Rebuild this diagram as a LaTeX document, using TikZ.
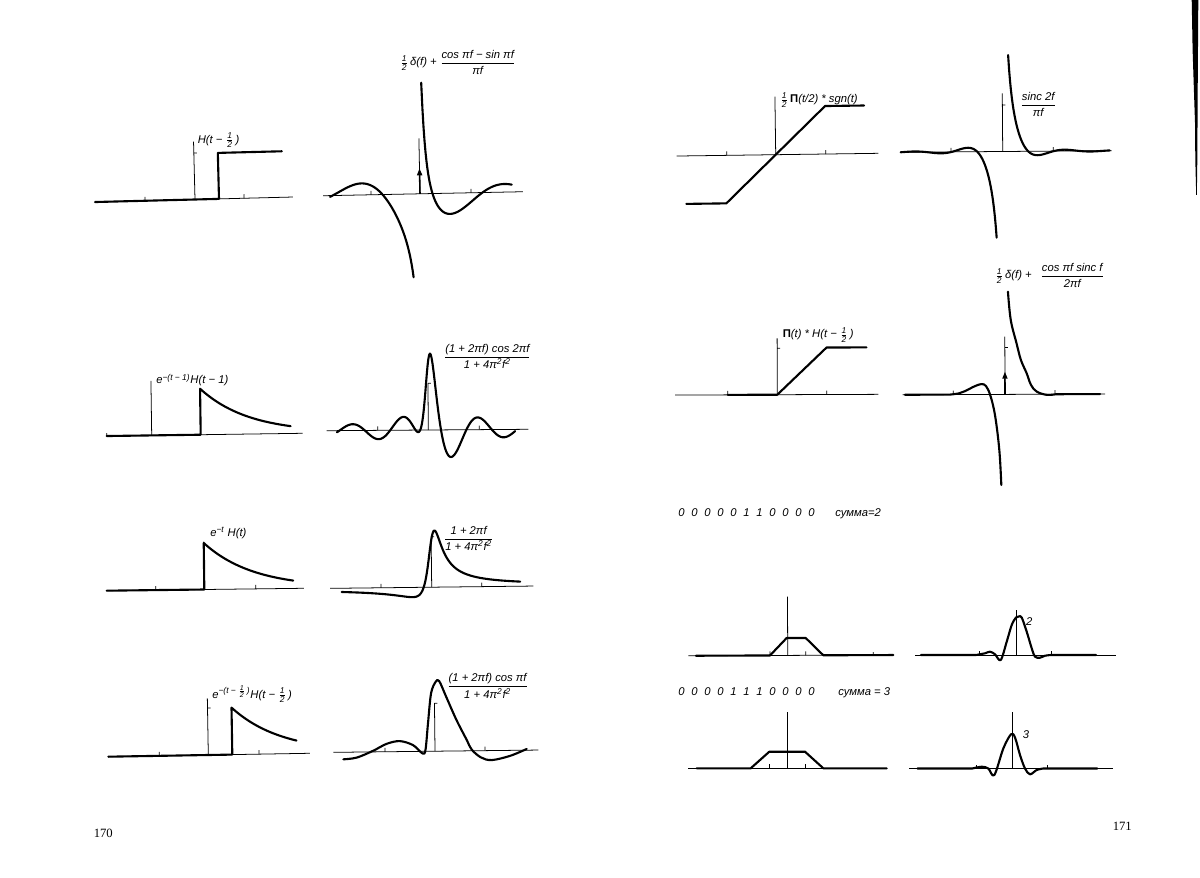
\documentclass[tikz,border=0pt]{standalone}
\usepackage{fontspec}
\usepackage{amsmath}
\setmainfont{Liberation Serif}
\newfontfamily\lblfont{Liberation Sans}
\usetikzlibrary{arrows.meta}
\newcommand\hf{$\frac{\text{1}}{\text{2}}$}
\newcommand\fr[2]{$\dfrac{\text{#1}}{\text{#2}}$}
\newcommand\dg{\hspace{4.8pt}}
\tikzset{
  ax/.style={line width=0.55pt},
  fn/.style={line width=1.5pt, line join=round, line cap=round},
  lab/.style={font=\lblfont\itshape\fontsize{8}{9.6}\selectfont, inner sep=0pt, anchor=base west},
  pg/.style={font=\fontsize{9}{10}\selectfont, inner sep=0pt},
  dl/.style={line width=1.1pt, -{Triangle[length=5pt,width=3.6pt]}},
  loc/.style 2 args={shift={#1}, rotate=#2, yscale=-1}
}
\begin{document}
\begin{tikzpicture}[x=0.025cm,y=-0.025cm]
\fill[white] (0,0) rectangle (1200,878);
\useasboundingbox (0,0) rectangle (1200,878);

% right edge bar
\fill (1191.7,0) -- (1198.3,0) -- (1197.7,87) -- (1197.3,160) -- (1196.8,195) -- (1196.2,195) -- (1195.3,160) -- (1195,123) -- (1193.8,87) -- (1192.6,50) -- cycle;

% ---------- A : H(t-1/2)
\begin{scope}[loc={(195,199.5)}{1.45}]
  \draw[ax] (-100,0) -- (98,0);
  \draw[ax] (-50,0) -- (-50,4) (49,0) -- (49,4);
  \draw[ax] (0,0) -- (0,58) (0,46.5) -- (3,46.5);
  \draw[fn] (-100,0) -- (24,0) -- (24,46) -- (88,46);
\end{scope}
\node[lab] (labA) at (197.5,143.5) {H(t − \hf\,)};

% ---------- B
\begin{scope}[loc={(420,193.8)}{1.15}]
  \draw[ax] (-97,0) -- (103,0);
  \draw[ax] (-49,0) -- (-49,4) (51,0) -- (51,4);
  \draw[ax] (0,0) -- (0,55.5);
  \draw[dl] (0,0) -- (0,25.5);
  \draw[fn] plot[domain=-1.8:-0.16, samples=100, variable=\f] ({50*\f},{31*(cos(deg(pi*\f))-sin(deg(pi*\f)))/(pi*\f)});
  \draw[fn] plot[domain=0.068:1.84, samples=120, variable=\f] ({50*\f},{31*(cos(deg(pi*\f))-sin(deg(pi*\f)))/(pi*\f)});
\end{scope}
\node[lab] (labB) at (400,66) {\hf\,δ(f) + \fr{cos πf − sin πf}{πf}};

% ---------- C
\begin{scope}[loc={(151.7,435.4)}{0.8}]
  \draw[ax] (-45,0) -- (151,0) (-45,0) -- (-45,3);
  \draw[ax] (0,0) -- (0,54.5);
  \draw[fn] (-45,0) -- (49,0) -- (49,46) -- plot[domain=49:139, samples=50] (\x,{46*exp(-(\x-49)/49)});
\end{scope}
\node[lab] (labC) at (156,384) {e\textsuperscript{−(t − 1)}H(t − 1)};

% ---------- D
\begin{scope}[loc={(428.3,430)}{0.4}]
  \draw[ax] (-101.6,0) -- (100,0);
  \draw[ax] (-50.6,0) -- (-50.6,4) (51,0) -- (51,4);
  \draw[ax] (0,0) -- (0,46.7) (0,46.7) -- (3,46.7);
  \draw[fn] plot[domain=-1.8:1.71, samples=220, variable=\f] ({50.8*\f},{67*(1+2*pi*\f)*cos(deg(2*pi*\f))/(1+4*pi*pi*\f*\f)});
\end{scope}
\node[lab] (labD) at (443.3,360) {\fr{(1 + 2πf) cos 2πf}{1 + 4π\textsuperscript{2}f\textsuperscript{2}}};

% ---------- E
\begin{scope}[loc={(204.3,589.5)}{0.7}]
  \draw[ax] (-97.6,0) -- (99.7,0);
  \draw[ax] (-48.5,0) -- (-48.5,4) (51.5,0) -- (51.5,4);
  \draw[ax] (0,0) -- (0,47.8);
  \draw[fn] (-97.6,0) -- (0,0) -- (0,46.5) -- plot[domain=0:89, samples=50] (\x,{46.5*exp(-\x/50)});
\end{scope}
\node[lab] (labE) at (210,536) {e\textsuperscript{−t} H(t)};

% ---------- F
\begin{scope}[loc={(431.7,587.2)}{0.65}]
  \draw[ax] (-101.7,0) -- (101.6,0);
  \draw[ax] (-50.7,0) -- (-50.7,4) (50,0) -- (50,4);
  \draw[ax] (0,0) -- (0,50.5) (0,50.5) -- (3,50.5);
  \draw[fn] plot[domain=-1.79:1.76, samples=200, variable=\f] ({50.3*\f},{47*(1+2*pi*\f)/(1+4*pi*pi*\f*\f)});
\end{scope}
\node[lab] (labF) at (443.3,542) {\fr{1 + 2πf}{1 + 4π\textsuperscript{2}f\textsuperscript{2}}};

% ---------- G
\begin{scope}[loc={(208.3,755)}{0.97}]
  \draw[ax] (-100,0) -- (101.7,0);
  \draw[ax] (-49,0) -- (-49,4) (50.7,0) -- (50.7,4);
  \draw[ax] (0,0) -- (0,56.7) (0,47) -- (3,47);
  \draw[fn] (-100,0) -- (24,0) -- (24,47) -- plot[domain=24:88.4, samples=50] (\x,{47*exp(-(\x-24)/50)});
\end{scope}
\node[lab] (labG) at (212,698.5) {e\textsuperscript{−(t − \hf\,)}H(t − \hf\,)};

% ---------- H
\begin{scope}[loc={(435,751.2)}{0.64}]
  \draw[ax] (-101.7,0) -- (103.3,0);
  \draw[ax] (-50,0) -- (-50,4) (50,0) -- (50,4);
  \draw[ax] (0,0) -- (0,48) (0,48) -- (3,48);
  \draw[fn] plot[smooth, tension=0.55] coordinates {(-91.7,-7.1) (-78.3,-5.5) (-61.7,1.2) (-48.3,7.9) (-35,10.5) (-21.7,6.2) (-12.5,-2.1) (-9.5,1.5) (-6.7,27.9) (-3.3,57.9) (1.5,69.5) (5,70) (11.7,54.5) (21.7,31.2) (31.7,11.2) (36.7,1.2) (46,-6.8) (56.7,-9.5) (75,-5.5) (91.7,1.2)};
\end{scope}
\node[lab] (labH) at (446.7,689.5) {\fr{(1 + 2πf) cos πf}{1 + 4π\textsuperscript{2}f\textsuperscript{2}}};

% ---------- I
\begin{scope}[loc={(775.7,154.7)}{0.77}]
  \draw[ax] (-99,0) -- (102.6,0);
  \draw[ax] (-49,0) -- (-49,4) (50,0) -- (50,4);
  \draw[ax] (0,0) -- (0,58);
  \draw[fn] (-90,-48) -- (-50,-48) -- (50,48) -- (89,48);
\end{scope}
\node[lab] (labI) at (780,103) {\hf\,{\upshape\bfseries Π}(t/2) * sgn(t)};

% ---------- J
\begin{scope}[loc={(1002.7,151.5)}{0.43}]
  \draw[ax] (-102.7,0) -- (109,0);
  \draw[ax] (-51.7,0) -- (-51.7,4) (50.6,0) -- (50.6,4);
  \draw[ax] (0,0) -- (0,58.2) (0,46.5) -- (3,46.5);
  \draw[fn] plot[domain=-2:-0.13, samples=120, variable=\f] ({51*\f},{40*sin(deg(2*pi*\f))/(2*pi*pi*\f*\f)});
  \draw[fn] plot[domain=0.12:2.1, samples=120, variable=\f] ({51*\f},{40*sin(deg(2*pi*\f))/(2*pi*pi*\f*\f)});
\end{scope}
\node[lab] (labJ) at (1020,108) {\fr{sinc 2f}{πf}};

% ---------- K
\begin{scope}[loc={(777.3,394.7)}{0.2}]
  \draw[ax] (-102.3,0) -- (101,0);
  \draw[ax] (-49.6,0) -- (-49.6,4) (49.4,0) -- (49.4,4);
  \draw[ax] (0,0) -- (0,56.4) (0,46.4) -- (3,46.4);
  \draw[fn] (-49.6,0) -- (0,0) -- (49.4,47) -- (89.4,47);
\end{scope}
\node[lab] (labK) at (782.5,338) {{\upshape\bfseries Π}(t) * H(t − \hf\,)};

% ---------- L
\begin{scope}[loc={(1005,394.4)}{0.2}]
  \draw[ax] (-102.3,0) -- (100,0);
  \draw[ax] (-51.7,0) -- (-51.7,4) (50,0) -- (50,4);
  \draw[ax] (0,0) -- (0,57.7) (0,47) -- (3,47);
  \draw[dl] (0,0) -- (0,22.7);
  \draw[fn] (-100,0) -- (-55,0) plot[smooth, tension=0.6] coordinates {(-55,0) (-46,1.2) (-40,3.4) (-30,8.4) (-23.3,10.4) (-19,8.4) (-15,0) (-11,-15.6) (-8,-35.6) (-5.5,-60.6) (-4,-90.6)};
  \draw[fn] plot[smooth, tension=0.6] coordinates {(3.3,102.7) (6,74.4) (11.7,51.1) (16,34.4) (21.7,21.1) (26,9.4) (31.7,2.7) (41.7,-0.6) (51,0)} -- (95,0);
\end{scope}
\node[lab] (labL) at (995,279) {\hf\,δ(f) +\hspace{6pt}\fr{cos πf sinc f}{2πf}};

% ---------- rows of samples
\node[lab] (row1) at (678,516.5) {0\dg0\dg0\dg0\dg0\dg1\dg1\dg0\dg0\dg0\dg0};
\node[lab] (sum1) at (835,516.5) {сумма=2};
\node[lab] (row2) at (678,695) {0\dg0\dg0\dg0\dg1\dg1\dg1\dg0\dg0\dg0\dg0};
\node[lab] (sum2) at (838,695) {сумма = 3};

% ---------- M
\begin{scope}[loc={(787.7,655.4)}{0.2}]
  \draw[ax] (-99.4,0) -- (105.6,0);
  \draw[ax] (-17.7,0) -- (-17.7,4) (18,0) -- (18,4) (85.6,0) -- (85.6,3);
  \draw[ax] (0,0) -- (0,58.7);
  \draw[fn] (-91.7,0) -- (-17.7,0) -- (-1,17.4) -- (18,17.4) -- (35.6,0) -- (105.6,0);
\end{scope}

% ---------- N
\begin{scope}[loc={(1016,655)}{0}]
  \draw[ax] (-101,0) -- (100,0);
  \draw[ax] (-37,0) -- (-37,4) (35.7,0) -- (35.7,4);
  \draw[ax] (0,0) -- (0,45);
  \draw[fn] (-95,0) -- (-40,0) plot[smooth, tension=0.55] coordinates {(-40,0) (-31,1.7) (-26,3.3) (-21,0.7) (-15.3,-5) (-9.3,13.3) (-4.3,30) (0,37.5) (3,38.6) (5.7,37.5) (10.7,23.3) (15.7,6.7) (19,-1.7) (24,-2.7) (29,-0.7) (35,0)} -- (80,0);
\end{scope}
\node[lab, anchor=center] (two) at (1029.3,621.7) {2};

% ---------- O
\begin{scope}[loc={(787.3,768.3)}{0}]
  \draw[ax] (-99,0) -- (99.4,0);
  \draw[ax] (-18,0) -- (-18,4) (17.7,0) -- (17.7,4);
  \draw[ax] (0,0) -- (0,56.6);
  \draw[fn] (-90.6,0) -- (-36.6,0) -- (-18,16.6) -- (17.7,16.6) -- (36,0) -- (99.4,0);
\end{scope}

% ---------- P
\begin{scope}[loc={(1012.3,768.5)}{0}]
  \draw[ax] (-103,0) -- (101,0);
  \draw[ax] (-36.3,0) -- (-36.3,4) (35.4,0) -- (35.4,4);
  \draw[ax] (0,0) -- (0,56.8);
  \draw[fn] (-95,0) -- (-40,0) plot[smooth, tension=0.55] coordinates {(-40,0) (-30.6,1.8) (-24,0) (-18,-6.5) (-9,20) (-1.3,34.2) (2.7,31) (7.7,13.5) (12.7,0) (17.7,-5.8) (24.4,-1.5) (31,0)} -- (85,0);
\end{scope}
\node[lab, anchor=center] (three) at (1026,735) {3};

% ---------- page numbers
\node[pg] (p170) at (103.3,833.3) {170};
\node[pg] (p171) at (1122.3,826.7) {171};
\end{tikzpicture}
\end{document}
